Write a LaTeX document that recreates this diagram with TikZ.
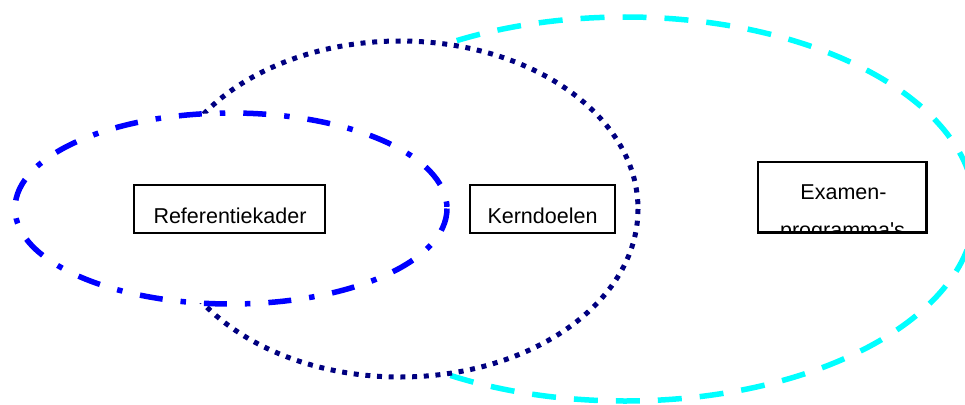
\documentclass[tikz,border=0pt]{standalone}
\usepackage{fontspec}
\setmainfont{Liberation Sans}
\definecolor{cyanline}{RGB}{0,255,255}
\definecolor{navyline}{RGB}{0,0,128}
\definecolor{blueline}{RGB}{0,0,255}
\begin{document}
\begin{tikzpicture}[x=1pt,y=-1pt,
  cyanring/.style={draw=cyanline,fill=white,line width=5.5pt,dash pattern=on 24pt off 18pt},
  navyring/.style={draw=navyline,fill=white,line width=5pt,dash pattern=on 5pt off 6.7pt},
  bluering/.style={draw=blueline,fill=white,line width=5.5pt,dash pattern=on 23pt off 18pt on 5.5pt off 18pt},
  box/.style={draw=black,line width=1.5pt,fill=white,inner sep=0pt},
  label/.style={font=\fontsize{21.5}{25}\selectfont,inner sep=0pt,anchor=base}]
\useasboundingbox (0,0) rectangle (965,404);
\begin{scope}
\clip (0,0) rectangle (965,404);
\draw[cyanring] (625,209) ellipse [x radius=350, y radius=192];
\draw[navyring] (400,209) ellipse [x radius=238, y radius=168];
\draw[bluering] (231,208.5) ellipse [x radius=216, y radius=95.5];
\end{scope}
\node[box,minimum width=191pt,minimum height=48pt] (ref) at (229.5,209) {};
\node[label] (reftext) at (230,223) {Referentiekader};
\node[box,minimum width=145pt,minimum height=48pt] (kern) at (542.5,209) {};
\node[label] (kerntext) at (542.5,223) {Kerndoelen};
\node[box,minimum width=168pt,minimum height=70pt] (exam) at (842,197) {};
\node[label] (examtext) at (843.5,199) {Examen-};
\begin{scope}
\clip (exam.north west) rectangle (exam.south east);
\node[label] (progtext) at (842.5,237) {programma\textquotesingle s};
\end{scope}
\draw[line width=1.5pt] (exam.north west) rectangle (exam.south east);
\end{tikzpicture}
\end{document}
